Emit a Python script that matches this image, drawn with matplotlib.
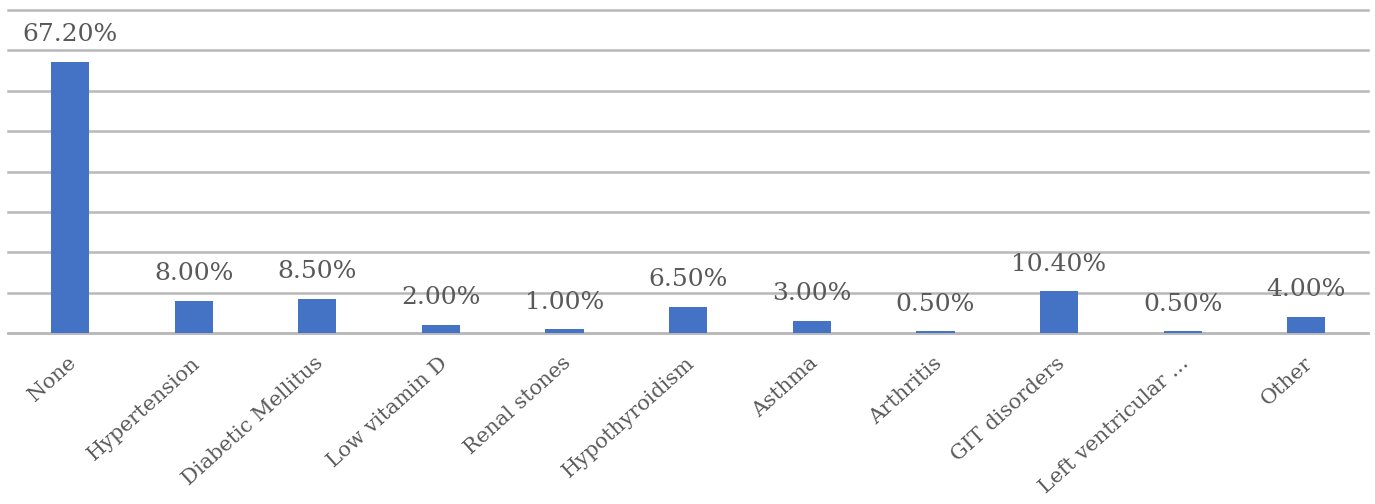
import matplotlib
matplotlib.use('Agg')
import matplotlib.pyplot as plt
import matplotlib.transforms as mtransforms
import numpy as np

categories = ["None", "Hypertension", "Diabetic Mellitus", "Low vitamin D",
              "Renal stones", "Hypothyroidism", "Asthma", "Arthritis",
              "GIT disorders", "Left ventricular ...", "Other"]
percent = [67.2, 8.0, 8.5, 2.0, 1.0, 6.5, 3.0, 0.5, 10.4, 0.5, 4.0]
grid_ticks = [0, 10, 20, 30, 40, 50, 60, 70, 80]

bar_color = '#4472c4'
text_color = '#595959'
grid_color = '#b8b8b8'

plt.rcParams['font.family'] = ['DejaVu Serif']

fig = plt.figure(figsize=(13.75, 5.04), dpi=100)
ax = fig.add_axes([0.006, 0.339, 0.989, 0.641])

x = np.arange(len(categories))
bars = ax.bar(x, percent, width=0.31, color=bar_color, zorder=3)

for xi, v in zip(x, percent):
    ax.annotate(f"{v:.2f}%", (xi, v), xytext=(0, 19.5), textcoords='offset points',
                ha='center', va='center', fontsize=18, color=text_color)

ax.set_xlim(-0.5, len(categories) - 0.5)
ax.set_ylim(0, 80)
ax.set_yticks(grid_ticks)
ax.yaxis.grid(True, color=grid_color, linewidth=1.8, zorder=0)
for gl in ax.yaxis.get_gridlines():
    gl.set_clip_on(False)
ax.tick_params(axis='y', left=False, labelleft=False)
ax.tick_params(axis='x', bottom=False, pad=11)
ax.set_xticks(x)
ax.set_xticklabels(categories, rotation=42, ha='right', va='top',
                   rotation_mode='anchor', fontsize=15, color=text_color)

# nudge the slanted labels so they end just right of the bar centre
shift = mtransforms.ScaledTranslation(-2 / 72, 0, fig.dpi_scale_trans)
for lbl in ax.get_xticklabels():
    lbl.set_transform(lbl.get_transform() + shift)

for side in ['left', 'right', 'top']:
    ax.spines[side].set_visible(False)
ax.spines['bottom'].set_color(grid_color)
ax.spines['bottom'].set_linewidth(1.8)

fig.savefig('out.png', dpi=100, facecolor='white')
